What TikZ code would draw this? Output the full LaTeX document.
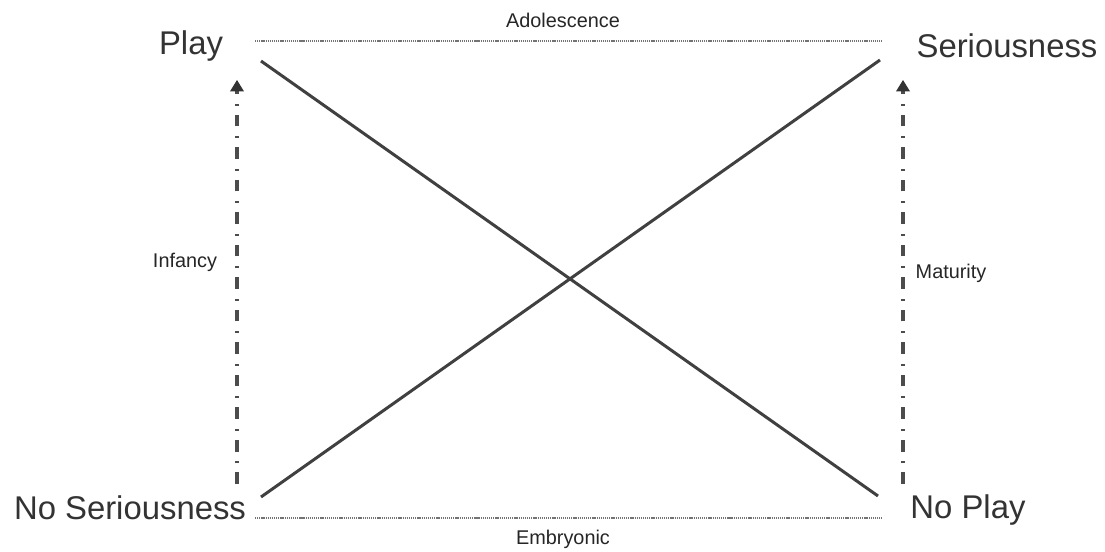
\documentclass[tikz,border=0pt]{standalone}
\usepackage{fontspec}
\setmainfont{Liberation Sans}
\usetikzlibrary{arrows.meta}
\begin{document}
\begin{tikzpicture}[x=0.02cm,y=-0.02cm,
  big/.style={font=\fontsize{18.7}{22}\selectfont, text=black!80, inner sep=0pt},
  small/.style={font=\fontsize{11.3}{13}\selectfont, text=black!85, inner sep=0pt},
  dotline/.style={draw=black!55, line width=1.6pt, dash pattern=on 0.7pt off 0.5pt},
  diag/.style={draw=black!75, line width=1.7pt},
  dasharrow/.style={draw=black!70, line width=2pt, dash pattern=on 6.8pt off 5pt on 1.2pt off 5.5pt, -{Triangle[width=8pt,length=6.5pt,line width=0pt,fill=black!80]}}]
\useasboundingbox[fill=white] (0,0) rectangle (1105,551);
% text nodes
\node[big] (play) at (191,46) {Play};
\node[big] (ser) at (1007,46) {Seriousness};
\node[big] (noser) at (130,508) {No Seriousness};
\node[big] (noplay) at (968,510) {No Play};
\node[small] (adol) at (563,20) {Adolescence};
\node[small] (emb) at (563,539) {Embryonic};
\node[small] (inf) at (185,262) {Infancy};
\node[small] (mat) at (951,273) {Maturity};
% coordinates
\coordinate (tl) at (255,41);
\coordinate (tr) at (882,41);
\coordinate (bl) at (255,518);
\coordinate (br) at (882,518);
\coordinate (d1s) at (261,61);
\coordinate (d1e) at (878,496);
\coordinate (d2s) at (261,497);
\coordinate (d2e) at (880,60);
\coordinate (la) at (237,484);
\coordinate (lb) at (237,80);
\coordinate (ra) at (903,484);
\coordinate (rb) at (903,80);
% connectors
\draw[dotline] (tl) -- (tr);
\draw[dotline] (bl) -- (br);
\draw[diag] (d1s) -- (d1e);
\draw[diag] (d2s) -- (d2e);
\draw[dasharrow] (la) -- (lb);
\draw[dasharrow] (ra) -- (rb);
\end{tikzpicture}
\end{document}
